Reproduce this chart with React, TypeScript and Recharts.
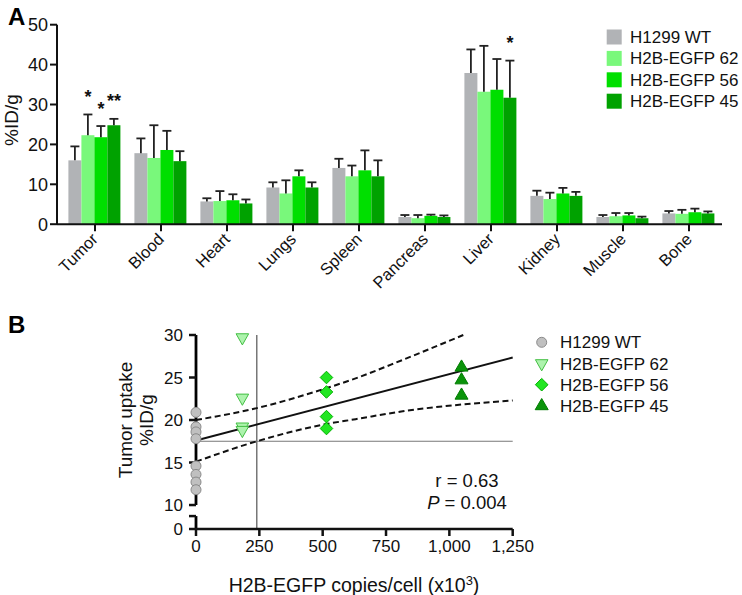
import React from 'react';
import {
  BarChart,
  Bar,
  XAxis,
  YAxis,
  Legend,
  ComposedChart,
  Scatter,
  Line,
  ReferenceLine,
} from 'recharts';

// ---- panel A: biodistribution (%ID/g, mean + SD) ----
const organs = ['Tumor', 'Blood', 'Heart', 'Lungs', 'Spleen', 'Pancreas', 'Liver', 'Kidney', 'Muscle', 'Bone'];
const wtMean = [16.0, 17.8, 5.7, 9.2, 14.1, 1.8, 37.9, 7.1, 1.8, 2.7];
const wtSd = [3.5, 3.7, 0.8, 1.3, 2.3, 0.5, 5.9, 1.3, 0.5, 0.6];
const g62Mean = [22.3, 16.6, 5.8, 7.7, 12.0, 1.5, 33.2, 6.3, 2.0, 2.6];
const g62Sd = [5.2, 8.2, 2.5, 3.3, 2.7, 0.8, 11.5, 1.6, 0.8, 1.0];
const g56Mean = [21.8, 18.6, 6.0, 12.0, 13.5, 2.1, 33.7, 7.7, 2.2, 3.0];
const g56Sd = [2.8, 4.8, 1.5, 1.5, 5.0, 0.3, 7.7, 1.4, 0.6, 0.9];
const g45Mean = [24.8, 15.8, 5.2, 9.2, 12.0, 1.8, 31.7, 7.1, 1.5, 2.7];
const g45Sd = [1.6, 2.5, 1.0, 1.3, 4.0, 0.4, 9.3, 1.0, 0.4, 0.5];
const g62Sig = ['*', '', '', '', '', '', '', '', '', ''];
const g56Sig = ['*', '', '', '', '', '', '', '', '', ''];
const g45Sig = ['**', '', '', '', '', '', '*', '', '', ''];
const barTicks = [0, 10, 20, 30, 40, 50];

// ---- panel B: tumor uptake vs copies/cell ----
const wtCopies = 0;
const wtUptake = [20.9, 19.2, 18.6, 17.8, 14.6, 13.6, 12.7, 11.8];
const g62Copies = 183;
const g62Uptake = [29.7, 22.6, 19.2, 18.8];
const g56Copies = 515;
const g56Uptake = [25.0, 23.3, 20.4, 19.0];
const g45Copies = 1048;
const g45Uptake = [26.2, 24.7, 22.9];
const fitX = [0, 1250];
const fitY = [17.6, 27.35];
const upperX = [0, 240, 510, 630, 810, 1055];
const upperY = [20.0, 21.4, 23.7, 24.9, 27.0, 30.0];
const lowerX = [0, 240, 510, 630, 810, 1250];
const lowerY = [15.1, 17.5, 19.5, 20.1, 21.0, 22.3];
const thresholdCopies = 240;
const thresholdUptake = 17.5;
const copiesTicks = [0, 250, 500, 750, 1000, 1250];
const axisZero = 7.18; // value drawn as "0" below the axis break
const axisBreak = 8.7;
const uptakeTicks = [axisZero, axisBreak, 10, 15, 20, 25, 30];

const FONT = '"Liberation Sans", Arial, Helvetica, sans-serif';

const seriesA = [
  { key: 'wt', name: 'H1299 WT', color: '#b1b3b6' },
  { key: 'g62', name: 'H2B-EGFP 62', color: '#79f87b' },
  { key: 'g56', name: 'H2B-EGFP 56', color: '#00df00' },
  { key: 'g45', name: 'H2B-EGFP 45', color: '#00a200' },
];

const barData = organs.map((organ, i) => ({
  organ,
  wt: wtMean[i], wtErr: wtSd[i], wtSig: '',
  g62: g62Mean[i], g62Err: g62Sd[i], g62Sig: g62Sig[i],
  g56: g56Mean[i], g56Err: g56Sd[i], g56Sig: g56Sig[i],
  g45: g45Mean[i], g45Err: g45Sd[i], g45Sig: g45Sig[i],
}));

const toPoints = (x: number, ys: number[]) => ys.map(y => ({ x, y }));
const toLine = (xs: number[], ys: number[]) => xs.map((x, i) => ({ x, y: ys[i] }));

// bar with an upward-only SD whisker and significance stars
const makeBarShape = (key: string) => (props: any) => {
  const { x, y, width, height, fill, payload } = props;
  const mean = payload[key];
  const err = payload[key + 'Err'];
  const sig = payload[key + 'Sig'];
  const ppu = mean > 0 ? height / mean : 0;
  const top = y - err * ppu;
  const cx = x + width / 2;
  return (
    <g>
      <rect x={x} y={y} width={width} height={height} fill={fill} />
      <line x1={cx} y1={y} x2={cx} y2={top} stroke="#222" strokeWidth={1.8} />
      <line x1={cx - 4.5} y1={top} x2={cx + 4.5} y2={top} stroke="#222" strokeWidth={1.8} />
      {sig ? (
        <text x={cx} y={top - 11.5} textAnchor="middle" fontSize={18} fontWeight="bold" fill="#111">
          {sig}
        </text>
      ) : null}
    </g>
  );
};

const OrganTick = (props: any) => {
  const { x, y, payload } = props;
  const ax = x + 4;
  const ay = y + 7;
  return (
    <text x={ax} y={ay} transform={`rotate(-45 ${ax} ${ay})`} textAnchor="end" fontSize={16.5} fill="#111">
      {payload.value}
    </text>
  );
};

const LegendA = () => (
  <svg width={140} height={90}>
    {seriesA.map((s, i) => (
      <g key={s.key}>
        <rect x={6.7} y={i * 21.4 + 3.5} width={15} height={15} fill={s.color} />
        <text x={30} y={i * 21.4 + 17} fontSize={17} fill="#111">{s.name}</text>
      </g>
    ))}
  </svg>
);

// markers for panel B
const Circle = (p: any) => <circle cx={p.cx} cy={p.cy} r={5} fill="#c0c0c0" stroke="#8a8a8a" strokeWidth={1} />;
const DownTri = (p: any) => (
  <polygon
    points={`${p.cx - 6.3},${p.cy - 3.8} ${p.cx + 6.3},${p.cy - 3.8} ${p.cx},${p.cy + 7.4}`}
    fill="#adf3ad" stroke="#44bf44" strokeWidth={1}
  />
);
const Diamond = (p: any) => (
  <polygon
    points={`${p.cx},${p.cy - 6.3} ${p.cx + 6.3},${p.cy} ${p.cx},${p.cy + 6.3} ${p.cx - 6.3},${p.cy}`}
    fill="#22e622" stroke="#00b000" strokeWidth={1}
  />
);
const UpTri = (p: any) => (
  <polygon
    points={`${p.cx},${p.cy - 7.4} ${p.cx + 6.5},${p.cy + 3.8} ${p.cx - 6.5},${p.cy + 3.8}`}
    fill="#0a940a" stroke="#007c00" strokeWidth={1}
  />
);

const seriesB = [
  { name: 'H1299 WT', Marker: Circle },
  { name: 'H2B-EGFP 62', Marker: DownTri },
  { name: 'H2B-EGFP 56', Marker: Diamond },
  { name: 'H2B-EGFP 45', Marker: UpTri },
];

const LegendB = () => (
  <svg width={200} height={100}>
    {seriesB.map((s, i) => {
      const cy = 12.3 + i * 21.2;
      const M = s.Marker;
      return (
        <g key={s.name}>
          <M cx={11.7} cy={cy} />
          <text x={30} y={cy + 6} fontSize={17} fill="#111">{s.name}</text>
        </g>
      );
    })}
  </svg>
);

const formatUptake = (v: number) => (v === axisZero ? '0' : v === axisBreak ? '' : String(v));
const formatCopies = (v: number) => v.toLocaleString('en-US');

export default function App() {
  return (
    <div style={{ position: 'absolute', left: 0, top: 0, width: 742, height: 595, background: '#fff', fontFamily: FONT }}>
      <div style={{ position: 'absolute', left: 0, top: 0 }}>
        <BarChart
          width={742}
          height={300}
          data={barData}
          margin={{ top: 24.7, right: 20, left: 0, bottom: 5 }}
          barCategoryGap={6.4}
          barGap={0}
        >
          <XAxis
            dataKey="organ"
            height={70.8}
            padding={{ left: 5, right: 0 }}
            tickSize={7}
            axisLine={{ stroke: '#111', strokeWidth: 2 }}
            tickLine={{ stroke: '#111', strokeWidth: 2 }}
            tick={<OrganTick />}
            interval={0}
          />
          <YAxis
            width={57}
            domain={[0, 50]}
            ticks={barTicks}
            tickSize={7}
            axisLine={{ stroke: '#111', strokeWidth: 2 }}
            tickLine={{ stroke: '#111', strokeWidth: 2 }}
            tick={{ fill: '#111', fontSize: 18 }}
          />
          {seriesA.map(s => (
            <Bar key={s.key} dataKey={s.key} name={s.name} fill={s.color} isAnimationActive={false} shape={makeBarShape(s.key)} />
          ))}
          <Legend
            layout="vertical"
            align="center"
            verticalAlign="middle"
            wrapperStyle={{ left: 600, top: 26, width: 140, height: 90 }}
            content={() => <LegendA />}
          />
          <text x={8} y={25} fontSize={24} fontWeight="bold" fill="#000">A</text>
          <text x={17.5} y={120} transform="rotate(-90 17.5 120)" textAnchor="middle" fontSize={19} fill="#111">%ID/g</text>
        </BarChart>
      </div>

      <div style={{ position: 'absolute', left: 0, top: 300 }}>
        <ComposedChart width={742} height={295} margin={{ top: 35, right: 229.3, left: 0, bottom: 6 }}>
          <XAxis
            type="number"
            dataKey="x"
            domain={[0, 1250]}
            ticks={copiesTicks}
            tickFormatter={formatCopies}
            height={60}
            tickSize={7}
            tickMargin={4}
            interval={0}
            axisLine={{ stroke: '#111', strokeWidth: 2.5 }}
            tickLine={{ stroke: '#111', strokeWidth: 2.5 }}
            tick={{ fill: '#111', fontSize: 17 }}
          />
          <YAxis
            type="number"
            dataKey="y"
            width={196}
            domain={[axisZero, 30]}
            ticks={uptakeTicks}
            tickFormatter={formatUptake}
            interval={0}
            tickSize={7}
            tickMargin={6}
            axisLine={false}
            tickLine={{ stroke: '#111', strokeWidth: 2.5 }}
            tick={{ fill: '#111', fontSize: 17 }}
          />
          <ReferenceLine x={thresholdCopies} stroke="#555" strokeWidth={1.2} />
          <ReferenceLine y={thresholdUptake} stroke="#777" strokeWidth={1.2} />
          {/* broken y axis: two pieces at x = 0 */}
          <ReferenceLine segment={[{ x: 0, y: 10 }, { x: 0, y: 30 }]} stroke="#000" strokeWidth={2.8} ifOverflow="visible" />
          <ReferenceLine segment={[{ x: 0, y: axisZero }, { x: 0, y: axisBreak }]} stroke="#000" strokeWidth={2.8} ifOverflow="visible" />
          <Scatter data={toPoints(wtCopies, wtUptake)} shape={Circle} isAnimationActive={false} />
          <Scatter data={toPoints(g62Copies, g62Uptake)} shape={DownTri} isAnimationActive={false} />
          <Scatter data={toPoints(g56Copies, g56Uptake)} shape={Diamond} isAnimationActive={false} />
          <Scatter data={toPoints(g45Copies, g45Uptake)} shape={UpTri} isAnimationActive={false} />
          <Line data={toLine(upperX, upperY)} dataKey="y" type="monotone" stroke="#111" strokeWidth={2} strokeDasharray="6 3.5" dot={false} activeDot={false} isAnimationActive={false} />
          <Line data={toLine(lowerX, lowerY)} dataKey="y" type="monotone" stroke="#111" strokeWidth={2} strokeDasharray="6 3.5" dot={false} activeDot={false} isAnimationActive={false} />
          <Line data={toLine(fitX, fitY)} dataKey="y" type="linear" stroke="#111" strokeWidth={2} dot={false} activeDot={false} isAnimationActive={false} />
          <Legend
            layout="vertical"
            align="center"
            verticalAlign="middle"
            wrapperStyle={{ left: 530, top: 30, width: 200, height: 100 }}
            content={() => <LegendB />}
          />
          <text x={8} y={33} fontSize={24} fontWeight="bold" fill="#000">B</text>
          <text x={467} y={186.7} textAnchor="middle" fontSize={18.5} fill="#111">r = 0.63</text>
          <text x={467} y={209} textAnchor="middle" fontSize={18.5} fill="#111">
            <tspan fontStyle="italic">P</tspan> = 0.004
          </text>
          <text x={131.5} y={120} transform="rotate(-90 131.5 120)" textAnchor="middle" fontSize={19} fill="#111">Tumor uptake</text>
          <text x={152.5} y={120} transform="rotate(-90 152.5 120)" textAnchor="middle" fontSize={19} fill="#111">%ID/g</text>
          <text x={354} y={292} textAnchor="middle" fontSize={19.5} fill="#111">
            H2B-EGFP copies/cell (x10<tspan dy={-7} fontSize={13}>3</tspan><tspan dy={7}>)</tspan>
          </text>
        </ComposedChart>
      </div>
    </div>
  );
}
